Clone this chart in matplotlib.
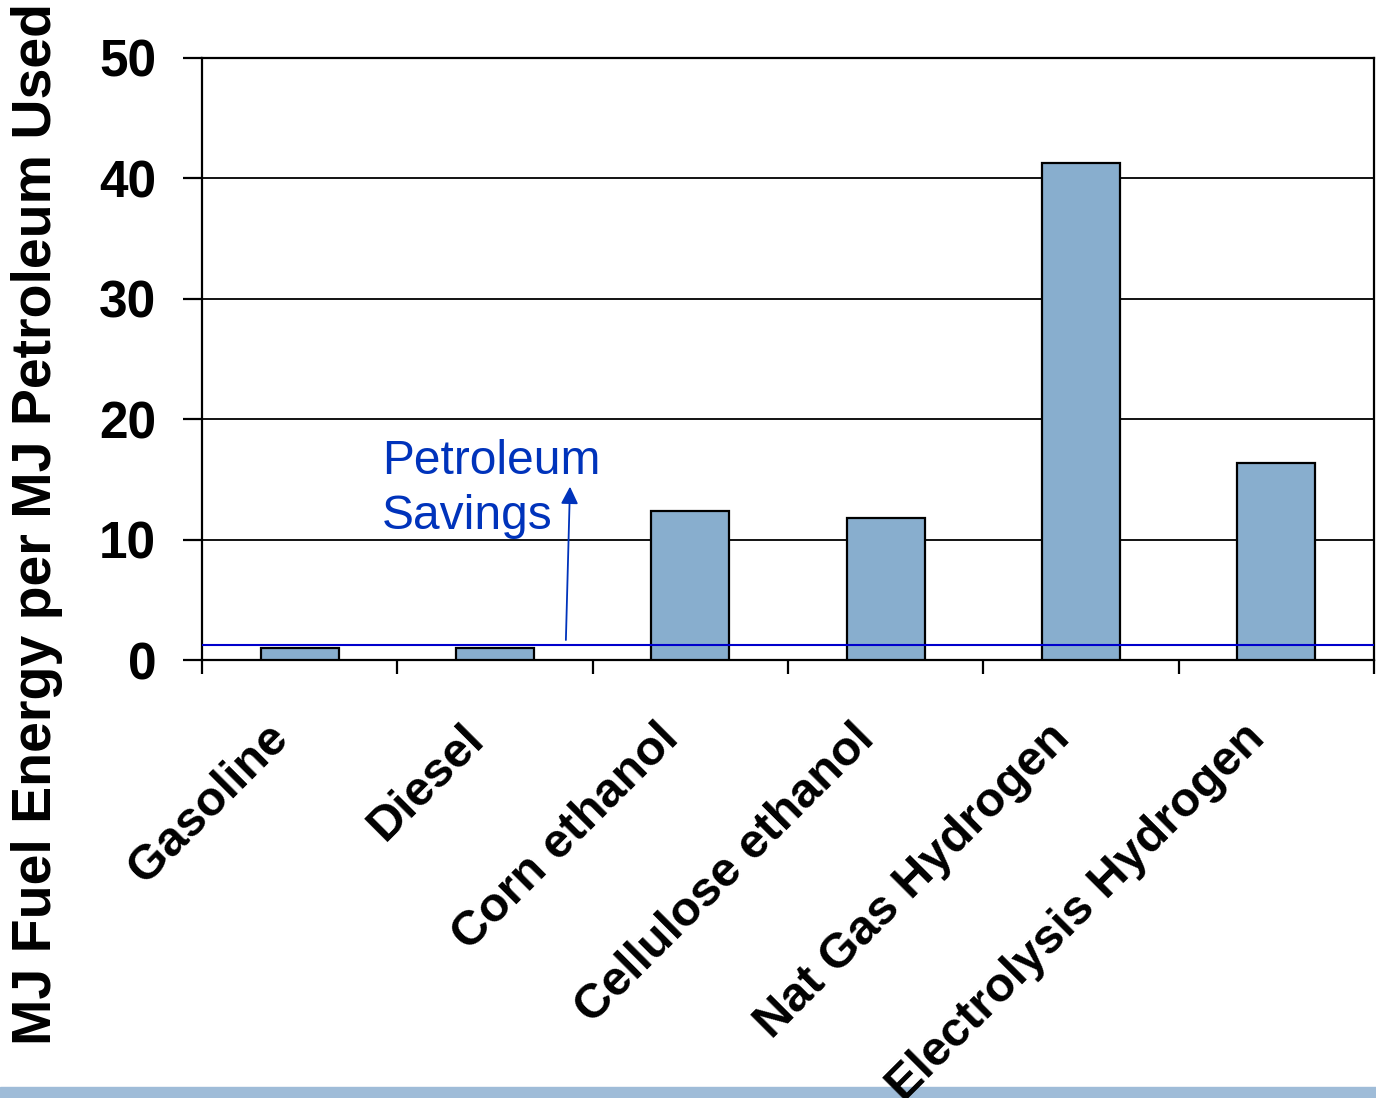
import matplotlib.pyplot as plt
import numpy as np
from matplotlib.patches import Rectangle
from matplotlib.transforms import ScaledTranslation

plt.rcParams['font.family'] = ['Liberation Sans', 'DejaVu Sans']

fuels = ['Gasoline', 'Diesel', 'Corn ethanol', 'Cellulose ethanol',
         'Nat Gas Hydrogen', 'Electrolysis Hydrogen']
energy_ratio = [1.0, 1.0, 12.4, 11.8, 41.3, 16.4]
petroleum_line = 1.25
yticks = [0, 10, 20, 30, 40, 50]

fig = plt.figure(figsize=(13.76, 10.98), dpi=100)
ax = fig.add_axes([0.1468, 0.3989, 0.8517, 0.5483])

x = np.arange(len(fuels))
ax.bar(x, energy_ratio, width=0.4, color='#88AECE', edgecolor='black',
       linewidth=1.6, zorder=3)

ax.axhline(petroleum_line, color='#0000CC', lw=1.5, zorder=4)

ax.set_xlim(-0.5, len(fuels) - 0.5)
ax.set_ylim(0, 50)
ax.set_yticks(yticks)
ax.set_yticklabels([str(v) for v in yticks], fontsize=37, fontweight='bold')
ax.yaxis.grid(True, color='black', lw=1.3, zorder=0)
ax.set_axisbelow(True)

ax.set_xticks(np.arange(len(fuels) + 1) - 0.5, minor=False)
ax.set_xticklabels([])
ax.set_xticks(x, minor=True)
ax.set_xticklabels(fuels, minor=True, rotation=45, ha='right',
                   rotation_mode='anchor', fontsize=35, fontweight='bold')
ax.tick_params(axis='x', which='minor', length=0, pad=40)
ax.tick_params(axis='x', which='major', length=10, width=1.6, direction='out')
ax.tick_params(axis='y', length=14, width=1.6, direction='out', pad=19)

shift = ScaledTranslation(-34 / 100, 0, fig.dpi_scale_trans)
for lbl in ax.get_xticklabels(minor=True):
    lbl.set_transform(lbl.get_transform() + shift)

for s in ax.spines.values():
    s.set_linewidth(1.6)

ax.set_ylabel('MJ Fuel Energy per MJ Petroleum Used', fontsize=40,
              fontweight='bold')
ax.yaxis.set_label_coords(-0.1186, 0.2267)

ax.annotate('', xy=(1.384, 14.4), xytext=(1.363, 1.66),
            arrowprops=dict(arrowstyle='-|>', color='#0033BB', lw=1.3,
                            mutation_scale=26, shrinkA=0, shrinkB=0),
            zorder=5)
ax.text(0.422, 18.35, 'Petroleum\nSavings', color='#0033BB', fontsize=34.5,
        va='top', ha='left', linespacing=1.28, zorder=5)

# light blue strip along the bottom edge, behind the tick labels
fig.patches.append(Rectangle((0, 0), 1, 11 / 1098, transform=fig.transFigure,
                             color='#9FBCD8', zorder=-1))

fig.savefig('out.png', dpi=100)
